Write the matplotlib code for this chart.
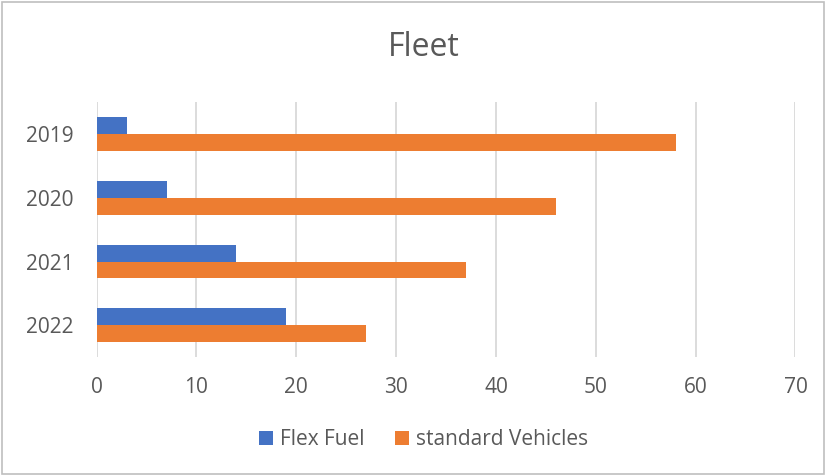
import matplotlib
matplotlib.use("Agg")
import matplotlib.pyplot as plt
import numpy as np

years = ["2019", "2020", "2021", "2022"]
flex_fuel = [3, 7, 14, 19]
standard_vehicles = [58, 46, 37, 27]
x_ticks = [0, 10, 20, 30, 40, 50, 60, 70]

plt.rcParams['font.family'] = ['Open Sans', 'DejaVu Sans']

fig = plt.figure(figsize=(8.26, 4.75), dpi=100)
ax = fig.add_axes([0.117, 0.248, 0.846, 0.537])

y = np.arange(len(years))
h = 0.265
ax.barh(y - h / 2, flex_fuel, height=h, color="#4472C4", label="Flex Fuel", zorder=3)
ax.barh(y + h / 2, standard_vehicles, height=h, color="#ED7D31", label="standard Vehicles", zorder=3)

ax.set_ylim(len(years) - 0.5, -0.5)
ax.set_xlim(0, 70)
ax.set_xticks(x_ticks)
ax.set_yticks(y)
ax.set_yticklabels(years)
ax.tick_params(axis='both', length=0, labelsize=15, colors="#595959")
ax.tick_params(axis='x', pad=14)
ax.tick_params(axis='y', pad=16.5)
ax.xaxis.grid(True, color="#D9D9D9", linewidth=1.3, zorder=0)
for s in ax.spines.values():
    s.set_visible(False)

fig.text(0.513, 0.9, "Fleet", ha="center", va="center", fontsize=23, color="#595959")

handles, labels = ax.get_legend_handles_labels()
leg = fig.legend(handles, labels, loc="center", bbox_to_anchor=(0.513, 0.075), ncol=2,
                 frameon=False, fontsize=15, handlelength=0.65, handleheight=0.65,
                 columnspacing=1.45, handletextpad=0.35, labelcolor="#595959")

fig.patches.append(plt.Rectangle((0.002, 0.002), 0.996, 0.994, transform=fig.transFigure,
                                 fill=False, edgecolor="#BFBFBF", linewidth=1.2))

fig.savefig("out.png", dpi=100)
